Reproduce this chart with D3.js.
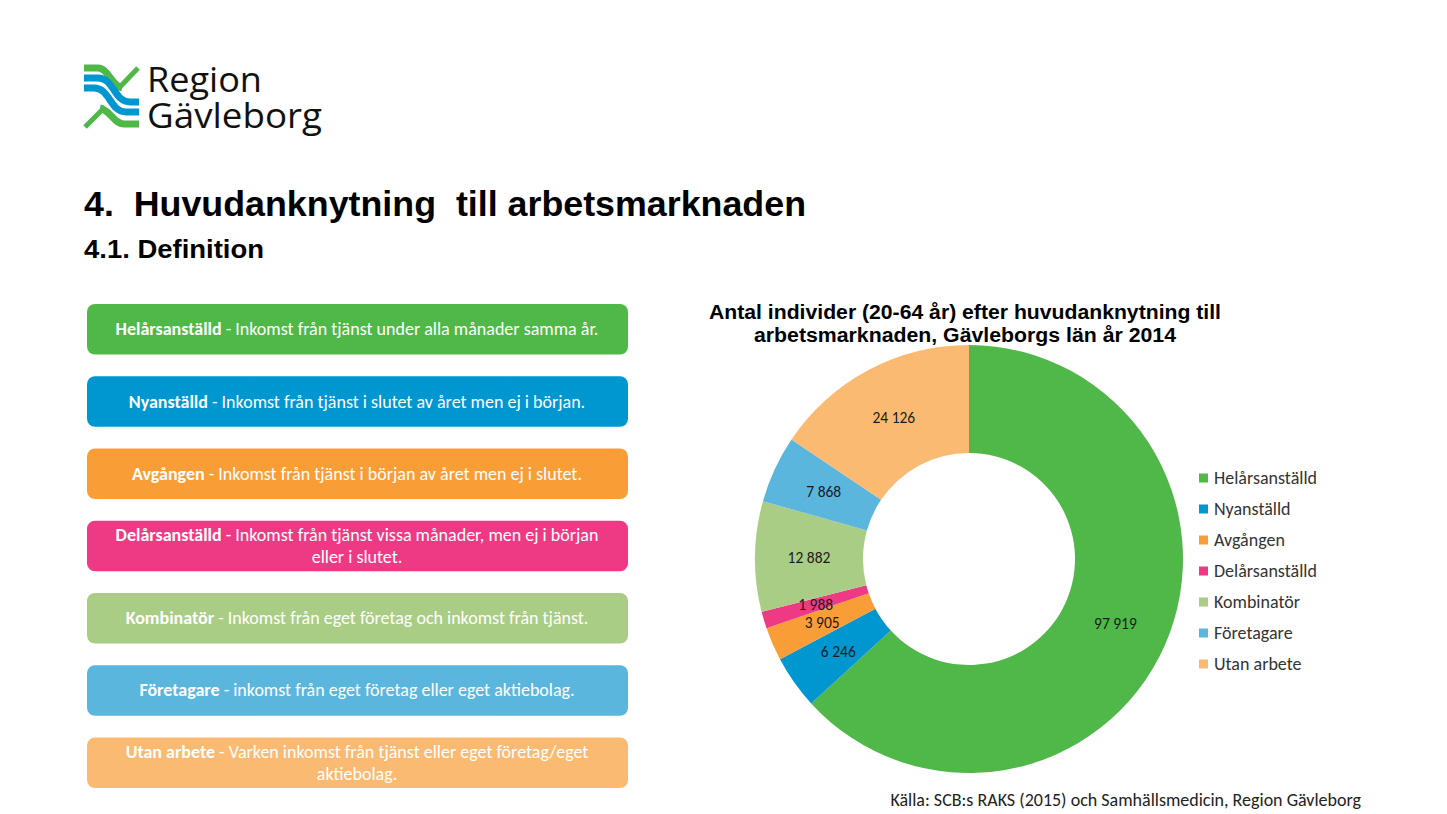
<!DOCTYPE html>
<html><head><meta charset="utf-8">
<script src="https://cdn.jsdelivr.net/npm/d3@7"></script>
<style>body{margin:0;background:#fff}svg{display:block}</style>
</head><body>
<svg id="c" width="1447" height="814"></svg>
<script>
// ---- data ----
const categories = ["Helårsanställd","Nyanställd","Avgången","Delårsanställd","Kombinatör","Företagare","Utan arbete"];
const values = [97919, 6246, 3905, 1988, 12882, 7868, 24126];
const colors = ["#50b848","#0096d0","#f99d36","#ee3a85","#a9cd84","#5bb6de","#fbba72"];
const definitionLines = [
  [["Helårsanställd", " - Inkomst från tjänst under alla månader samma år."]],
  [["Nyanställd", " - Inkomst från tjänst i slutet av året men ej i början."]],
  [["Avgången", " - Inkomst från tjänst i början av året men ej i slutet."]],
  [["Delårsanställd", " - Inkomst från tjänst vissa månader, men ej i början"], ["", "eller i slutet."]],
  [["Kombinatör", " - Inkomst från eget företag och inkomst från tjänst."]],
  [["Företagare", " - inkomst från eget företag eller eget aktiebolag."]],
  [["Utan arbete", " - Varken inkomst från tjänst eller eget företag/eget"], ["", "aktiebolag."]]
];
const heading = "4.  Huvudanknytning  till arbetsmarknaden";
const subheading = "4.1. Definition";
const chartTitle = ["Antal individer (20-64 år) efter huvudanknytning till", "arbetsmarknaden, Gävleborgs län år 2014"];
const sourceText = "Källa: SCB:s RAKS (2015) och Samhällsmedicin, Region Gävleborg";
const logoLines = ["Region", "Gävleborg"];

const svg = d3.select("#c");
const bodyFont = "Carlito, Calibri, Lato, sans-serif";
function fitText(sel, w){ sel.attr("textLength",w).attr("lengthAdjust","spacingAndGlyphs"); return sel; }

// ---- logo ----
const logo = svg.append("g").attr("transform","translate(84,64)");
logo.append("path").attr("d","M0,4 L14,4 C24,4 28,22 38,24").attr("fill","none").attr("stroke","#50b848").attr("stroke-width",7);
logo.append("path").attr("d","M34,25 L54,4").attr("fill","none").attr("stroke","#50b848").attr("stroke-width",5);
logo.append("path").attr("d","M0,14 L14,14 C30,14 30,38 46,38 L55,38").attr("fill","none").attr("stroke","#0096d0").attr("stroke-width",7);
logo.append("path").attr("d","M0,24 L10,24 C26,24 26,48 42,48 L55,48").attr("fill","none").attr("stroke","#0096d0").attr("stroke-width",7);
logo.append("path").attr("d","M1,63 L21,43").attr("fill","none").attr("stroke","#50b848").attr("stroke-width",5);
logo.append("path").attr("d","M16,44 C26,46 30,60 40,60 L55,60").attr("fill","none").attr("stroke","#50b848").attr("stroke-width",7);
const logoText = svg.append("text").attr("font-family","'Open Sans', sans-serif").attr("font-size",35).attr("fill","#111");
const logoW = [115, 175];
logoLines.forEach((s,i)=>{
  logoText.append("tspan").attr("x",147).attr("y",92+i*36).attr("textLength",logoW[i]).attr("lengthAdjust","spacingAndGlyphs").text(s);
});

// ---- headings ----
fitText(svg.append("text").attr("x",84).attr("y",216).attr("font-family","'Liberation Sans', Arial, sans-serif").attr("font-weight","bold").attr("font-size",35).attr("fill","#000").style("white-space","pre").text(heading), 722);
fitText(svg.append("text").attr("x",84).attr("y",258).attr("font-family","'Liberation Sans', Arial, sans-serif").attr("font-weight","bold").attr("font-size",25).attr("fill","#000").text(subheading), 180);

// ---- definition boxes ----
const boxTop = d3.scaleBand().domain(d3.range(categories.length)).range([304, 788]).paddingInner(0.3);
const boxes = svg.append("g");
definitionLines.forEach((lines,i)=>{
  const y0 = boxTop(i), h = boxTop.bandwidth();
  boxes.append("rect").attr("x",87).attr("y",y0).attr("width",541).attr("height",h).attr("rx",8).attr("fill",colors[i]);
  const lh = 22;
  const startY = y0 + h/2 - (lines.length-1)*lh/2 + 6;
  lines.forEach((ln,j)=>{
    const t = boxes.append("text").attr("x",357).attr("y",startY + j*lh).attr("text-anchor","middle")
      .attr("font-family",bodyFont).attr("font-size",18).attr("fill","#fff");
    if(ln[0]) t.append("tspan").attr("font-weight","bold").text(ln[0]);
    t.append("tspan").text(ln[1]);
  });
});

// ---- chart title ----
const titleW = [512, 422];
chartTitle.forEach((s,i)=>{
  fitText(svg.append("text").attr("x",965).attr("y",319+i*23).attr("text-anchor","middle")
    .attr("font-family","'Liberation Sans', Arial, sans-serif").attr("font-weight","bold").attr("font-size",19.5).attr("fill","#000")
    .text(s), titleW[i]);
});

// ---- donut ----
const cx = 969, cy = 559, rOuter = 214, rInner = 106;
const pie = d3.pie().sort(null).value(d=>d.value);
const data = categories.map((c,i)=>({cat:c, value:values[i], color:colors[i]}));
const arcs = pie(data);
const arc = d3.arc().innerRadius(rInner).outerRadius(rOuter);
const g = svg.append("g").attr("transform",`translate(${cx},${cy})`);
g.selectAll("path").data(arcs).join("path").attr("d",arc).attr("fill",d=>d.data.color);
const fmt = d3.formatLocale({decimal:",", thousands:" ", grouping:[3], currency:["","kr"]}).format(",");
g.selectAll("text.lbl").data(arcs).join("text").attr("class","lbl")
  .attr("transform",d=>`translate(${arc.centroid(d)})`)
  .attr("text-anchor","middle").attr("dy","0.35em")
  .attr("font-family",bodyFont).attr("font-size",15.5).attr("fill","#1a1a1a")
  .text(d=>fmt(d.data.value));

// ---- legend ----
const legY = d3.scalePoint().domain(categories).range([478, 664]);
const leg = svg.append("g");
categories.forEach((c,i)=>{
  leg.append("rect").attr("x",1199).attr("y",legY(c)-4.5).attr("width",9).attr("height",9).attr("fill",colors[i]);
  leg.append("text").attr("x",1214).attr("y",legY(c)).attr("dy","0.35em").attr("font-family",bodyFont).attr("font-size",18).attr("fill","#333").text(c);
});

// ---- source ----
svg.append("text").attr("x",1361).attr("y",806).attr("text-anchor","end").attr("font-family",bodyFont).attr("font-size",18).attr("fill","#222").text(sourceText);
</script>
</body></html>
